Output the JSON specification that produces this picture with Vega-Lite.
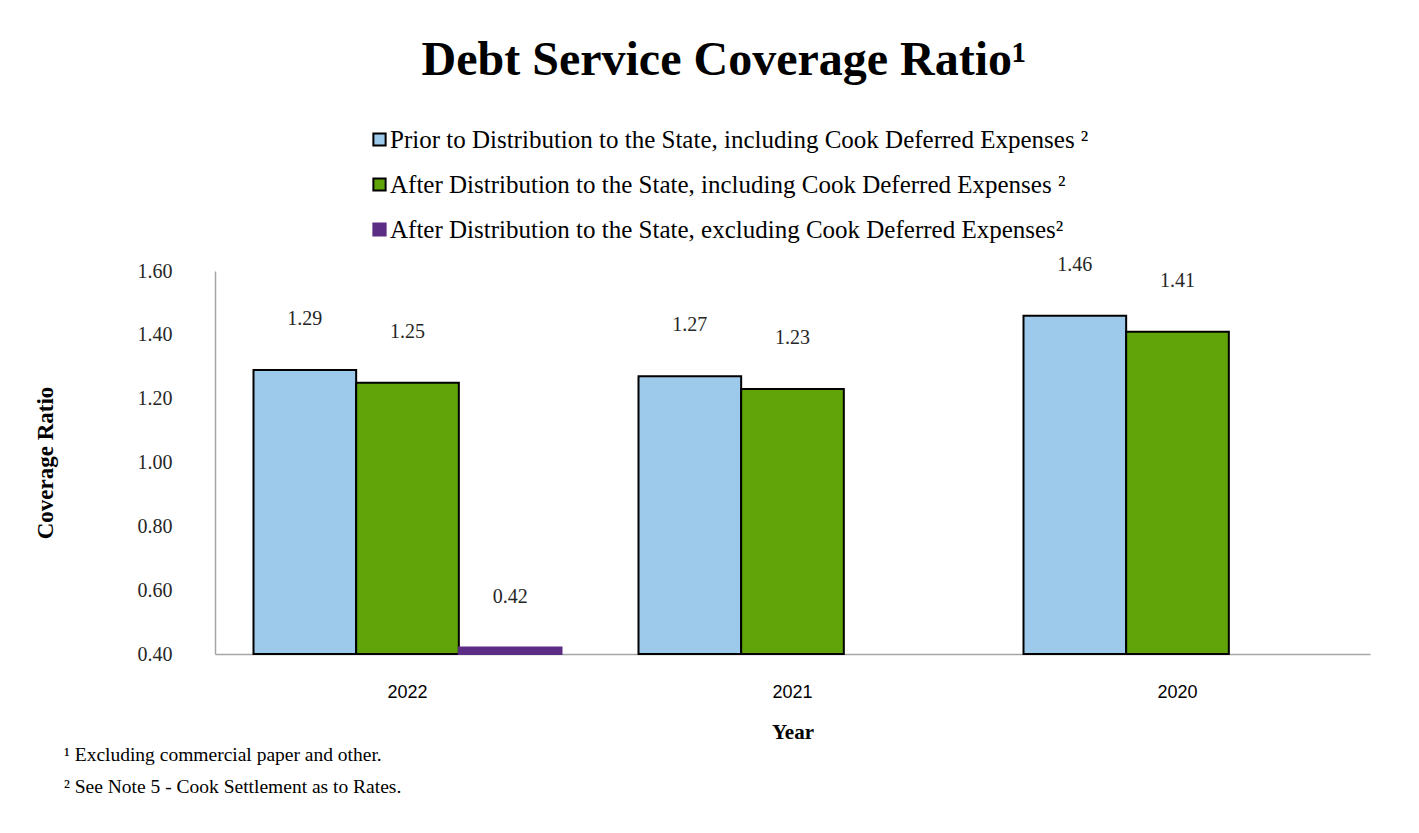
{
  "$schema": "https://vega.github.io/schema/vega-lite/v6.json",
  "background": "white",
  "padding": {"left": 34, "top": 37, "right": 10, "bottom": 10},
  "title": {
    "text": "Debt Service Coverage Ratio¹",
    "font": "Liberation Serif",
    "fontSize": 48,
    "fontWeight": "bold",
    "color": "black",
    "anchor": "middle",
    "frame": "bounds",
    "offset": 42,
    "dx": 22
  },
  "data": {
    "values": [
      {"Year": "2022", "Series": "Prior to Distribution to the State, including Cook Deferred Expenses ²", "Ratio": 1.29},
      {"Year": "2022", "Series": "After Distribution to the State, including Cook Deferred Expenses ²", "Ratio": 1.25},
      {"Year": "2022", "Series": "After Distribution to the State, excluding Cook Deferred Expenses²", "Ratio": 0.42},
      {"Year": "2021", "Series": "Prior to Distribution to the State, including Cook Deferred Expenses ²", "Ratio": 1.27},
      {"Year": "2021", "Series": "After Distribution to the State, including Cook Deferred Expenses ²", "Ratio": 1.23},
      {"Year": "2020", "Series": "Prior to Distribution to the State, including Cook Deferred Expenses ²", "Ratio": 1.46},
      {"Year": "2020", "Series": "After Distribution to the State, including Cook Deferred Expenses ²", "Ratio": 1.41}
    ]
  },
  "vconcat": [
    {
      "width": 1155,
      "height": 383,
      "title": {
        "text": "¹ Excluding commercial paper and other.",
        "subtitle": "² See Note 5 - Cook Settlement as to Rates.",
        "orient": "bottom",
        "anchor": "start",
        "frame": "bounds",
        "font": "Liberation Serif",
        "fontSize": 19.5,
        "fontWeight": "normal",
        "color": "black",
        "subtitleFont": "Liberation Serif",
        "subtitleFontSize": 19.5,
        "subtitleColor": "black",
        "subtitlePadding": 12,
        "offset": 4,
        "dx": 30
      },
      "encoding": {
        "x": {
          "field": "Year",
          "type": "nominal",
          "sort": ["2022", "2021", "2020"],
          "scale": {"paddingInner": 0.2, "paddingOuter": 0.1},
          "axis": {
            "title": "Year",
            "labelAngle": 0,
            "ticks": false,
            "domainColor": "#A6A6A6",
            "domainWidth": 1.5,
            "labelFont": "Liberation Sans",
            "labelFontSize": 18,
            "labelColor": "black",
            "labelPadding": 29,
            "titleFont": "Liberation Serif",
            "titleFontSize": 21,
            "titleFontWeight": "bold",
            "titleColor": "black",
            "titlePadding": 20
          }
        },
        "xOffset": {
          "field": "Series",
          "type": "nominal",
          "sort": [
            "Prior to Distribution to the State, including Cook Deferred Expenses ²",
            "After Distribution to the State, including Cook Deferred Expenses ²",
            "After Distribution to the State, excluding Cook Deferred Expenses²"
          ],
          "scale": {"paddingInner": 0, "paddingOuter": 0}
        },
        "y": {
          "field": "Ratio",
          "type": "quantitative",
          "scale": {"domain": [0.4, 1.6], "zero": false, "nice": false},
          "axis": {
            "title": "Coverage Ratio",
            "values": [0.4, 0.6, 0.8, 1.0, 1.2, 1.4, 1.6],
            "format": ".2f",
            "grid": false,
            "ticks": false,
            "domainColor": "#A6A6A6",
            "domainWidth": 1.5,
            "labelFont": "Liberation Serif",
            "labelFontSize": 20,
            "labelColor": "#262626",
            "labelPadding": 43,
            "titleFont": "Liberation Serif",
            "titleFontSize": 23,
            "titleFontWeight": "bold",
            "titleColor": "black",
            "titlePadding": 80
          }
        }
      },
      "layer": [
        {
          "mark": {"type": "bar", "strokeWidth": 2},
          "encoding": {
            "y2": {"datum": 0.4},
            "fill": {
              "field": "Series",
              "type": "nominal",
              "sort": [
                "Prior to Distribution to the State, including Cook Deferred Expenses ²",
                "After Distribution to the State, including Cook Deferred Expenses ²",
                "After Distribution to the State, excluding Cook Deferred Expenses²"
              ],
              "scale": {"range": ["#9DC9EA", "#60A40A", "#5C2D84"]},
              "legend": {
                "title": null,
                "encode": {
                  "symbols": {
                    "update": {
                      "stroke": {"signal": "indexof(datum.value, 'excluding') >= 0 ? '#5C2D84' : '#000000'"},
                      "strokeWidth": {"value": 2}
                    }
                  }
                }
              }
            },
            "stroke": {
              "field": "Series",
              "type": "nominal",
              "sort": [
                "Prior to Distribution to the State, including Cook Deferred Expenses ²",
                "After Distribution to the State, including Cook Deferred Expenses ²",
                "After Distribution to the State, excluding Cook Deferred Expenses²"
              ],
              "scale": {"range": ["#000000", "#000000", "#5C2D84"]},
              "legend": null
            }
          }
        },
        {
          "mark": {"type": "text", "baseline": "middle", "dy": -51, "font": "Liberation Serif", "fontSize": 20, "color": "#262626"},
          "encoding": {
            "text": {"field": "Ratio", "type": "quantitative", "format": ".2f"}
          }
        }
      ]
    }
  ],
  "config": {
    "view": {"stroke": null},
    "legend": {
      "orient": "none",
      "legendX": 152,
      "legendY": -144,
      "direction": "vertical",
      "labelFont": "Liberation Serif",
      "labelFontSize": 25,
      "labelColor": "black",
      "labelLimit": 1000,
      "symbolType": "square",
      "symbolSize": 150,
      "symbolStrokeWidth": 2,
      "rowPadding": 19,
      "labelOffset": -2
    }
  }
}
